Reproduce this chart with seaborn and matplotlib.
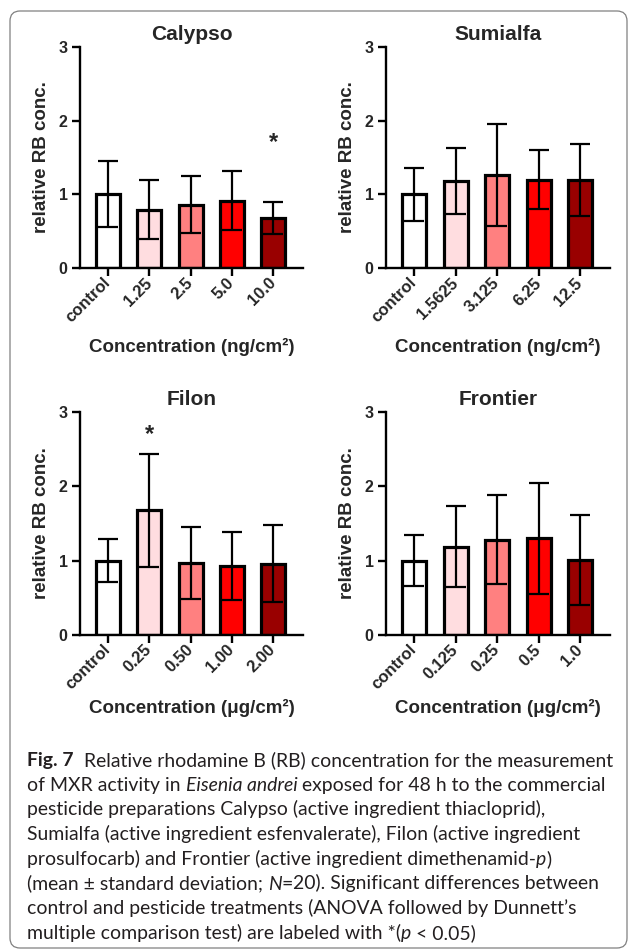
import matplotlib.pyplot as plt
import seaborn as sns
from matplotlib.patches import FancyBboxPatch
from matplotlib.transforms import IdentityTransform

sns.set_style("ticks")
plt.rcParams["font.family"] = ["Liberation Sans", "DejaVu Sans"]
plt.rcParams["font.weight"] = "bold"

# ── data ─────────────────────────────────────────────────────────────────────

pesticides = ["Calypso", "Sumialfa", "Filon", "Frontier"]
units = ["ng/cm²", "ng/cm²", "μg/cm²", "μg/cm²"]

calypso_doses = ["control", "1.25", "2.5", "5.0", "10.0"]
calypso_mean = [1.00, 0.79, 0.86, 0.91, 0.68]
calypso_sd = [0.45, 0.40, 0.39, 0.40, 0.22]

sumialfa_doses = ["control", "1.5625", "3.125", "6.25", "12.5"]
sumialfa_mean = [1.00, 1.18, 1.26, 1.20, 1.20]
sumialfa_sd = [0.36, 0.45, 0.69, 0.40, 0.49]

filon_doses = ["control", "0.25", "0.50", "1.00", "2.00"]
filon_mean = [1.00, 1.68, 0.97, 0.93, 0.96]
filon_sd = [0.29, 0.76, 0.48, 0.46, 0.52]

frontier_doses = ["control", "0.125", "0.25", "0.5", "1.0"]
frontier_mean = [1.00, 1.19, 1.28, 1.30, 1.01]
frontier_sd = [0.34, 0.55, 0.60, 0.75, 0.60]

# significant bars: (bar index, height of the asterisk)
calypso_stars = [(4, 1.62)]
sumialfa_stars = []
filon_stars = [(1, 2.61)]
frontier_stars = []

bar_colors = ["#FFFFFF", "#FFDDE0", "#FF8080", "#FF0000", "#990000"]

caption_lines = [
    [("Fig. 7", "b"), ("  Relative rhodamine B (RB) concentration for the measurement", "n")],
    [("of MXR activity in ", "n"), ("Eisenia andrei", "i"), (" exposed for 48 h to the commercial", "n")],
    [("pesticide preparations Calypso (active ingredient thiacloprid),", "n")],
    [("Sumialfa (active ingredient esfenvalerate), Filon (active ingredient", "n")],
    [("prosulfocarb) and Frontier (active ingredient dimethenamid-", "n"), ("p", "i"), (")", "n")],
    [("(mean ± standard deviation; ", "n"), ("N", "i"), ("=", "n"), ("20). Significant differences between", "n")],
    [("control and pesticide treatments (ANOVA followed by Dunnett’s", "n")],
    [("multiple comparison test) are labeled with *(", "n"), ("p", "i"), (" < 0.05)", "n")],
]

CAP_FONT = ["Lato", "DejaVu Sans"]
W, H = 629, 951


# ── helpers ──────────────────────────────────────────────────────────────────

def _panel(fig, rect, name, doses, mean, sd, stars, unit, xlab_y):
    ax = fig.add_axes(rect)
    sns.barplot(x=doses, y=mean, hue=doses, palette=bar_colors, legend=False,
                width=0.58, saturation=1, edgecolor="black", linewidth=2.3,
                ax=ax)
    ax.errorbar(range(len(doses)), mean, yerr=sd, fmt="none", ecolor="black",
                elinewidth=1.6, capsize=7.5, capthick=1.6, zorder=5)
    for i, y in stars:
        ax.text(i, y, "*", ha="center", va="baseline", fontsize=17,
                fontweight="bold")

    ax.set_xlim(-0.68, 4.72)
    ax.set_ylim(0, 3)
    ax.set_yticks([0, 1, 2, 3])
    sns.despine(ax=ax)
    for side in ["left", "bottom"]:
        ax.spines[side].set_linewidth(1.7)
        ax.spines[side].set_color("black")
    ax.tick_params(length=6, width=1.7, color="black", pad=3)
    ax.tick_params(axis="y", labelsize=11.5)
    ax.tick_params(axis="x", labelsize=12)
    plt.setp(ax.get_xticklabels(), rotation=45, ha="right", va="center",
             rotation_mode="anchor", fontweight="bold")
    plt.setp(ax.get_yticklabels(), fontweight="bold")

    ax.set_title(name, fontsize=15, fontweight="bold", pad=5)
    ax.set_ylabel("relative RB conc.", fontsize=13.5, fontweight="bold")
    ax.yaxis.set_label_coords(-0.135, 0.5)
    ax.set_xlabel(f"Concentration ({unit})", fontsize=13.5, fontweight="bold")
    ax.xaxis.set_label_coords(0.5, xlab_y)
    return ax


def _space(fig, renderer, kw):
    a = fig.text(0, 0, "a a", transform=IdentityTransform(), **kw)
    b = fig.text(0, 0, "aa", transform=IdentityTransform(), **kw)
    w = a.get_window_extent(renderer).width - b.get_window_extent(renderer).width
    a.remove()
    b.remove()
    return w


def _runs(fig, renderer, runs, x, y, size, keep=True):
    made = []
    for text, style in runs:
        kw = dict(family=CAP_FONT, fontsize=size,
                  fontweight="bold" if style == "b" else "normal",
                  fontstyle="italic" if style == "i" else "normal",
                  color="#231f20")
        sw = _space(fig, renderer, kw)
        lead = len(text) - len(text.lstrip(" "))
        trail = len(text) - len(text.rstrip(" "))
        x += lead * sw
        t = fig.text(x, y, text.strip(" "), transform=IdentityTransform(),
                     ha="left", va="baseline", **kw)
        x += t.get_window_extent(renderer).width + trail * sw
        made.append(t)
    if not keep:
        for t in made:
            t.remove()
    return x


# ── figure ───────────────────────────────────────────────────────────────────

fig = plt.figure(figsize=(W / 100, H / 100), dpi=100)

cols = [(80 / W, 223 / W), (386 / W, 224 / W)]
rows = [(1 - 268 / H, 221 / H), (1 - 635 / H, 223 / H)]

_panel(fig, [cols[0][0], rows[0][0], cols[0][1], rows[0][1]], pesticides[0],
       calypso_doses, calypso_mean, calypso_sd, calypso_stars, units[0], -0.317)
_panel(fig, [cols[1][0], rows[0][0], cols[1][1], rows[0][1]], pesticides[1],
       sumialfa_doses, sumialfa_mean, sumialfa_sd, sumialfa_stars, units[1], -0.317)
_panel(fig, [cols[0][0], rows[1][0], cols[0][1], rows[1][1]], pesticides[2],
       filon_doses, filon_mean, filon_sd, filon_stars, units[2], -0.287)
_panel(fig, [cols[1][0], rows[1][0], cols[1][1], rows[1][1]], pesticides[3],
       frontier_doses, frontier_mean, frontier_sd, frontier_stars, units[3], -0.287)

# caption, sized so the first line spans the box
renderer = fig.canvas.get_renderer()
x0, first, step = 27, 766, 24.7
probe = _runs(fig, renderer, caption_lines[0], x0, 0, 10, keep=False)
cap_size = 10 * (613 - x0) / (probe - x0)
for k, line in enumerate(caption_lines):
    _runs(fig, renderer, line, x0, H - (first + k * step), cap_size)

frame = FancyBboxPatch((10, H - 948), 617, 937,
                       boxstyle="round,pad=0,rounding_size=10",
                       transform=IdentityTransform(), fill=False,
                       edgecolor="#808080", linewidth=0.9)
fig.add_artist(frame)

fig.savefig("out.png", dpi=100)
plt.close(fig)
